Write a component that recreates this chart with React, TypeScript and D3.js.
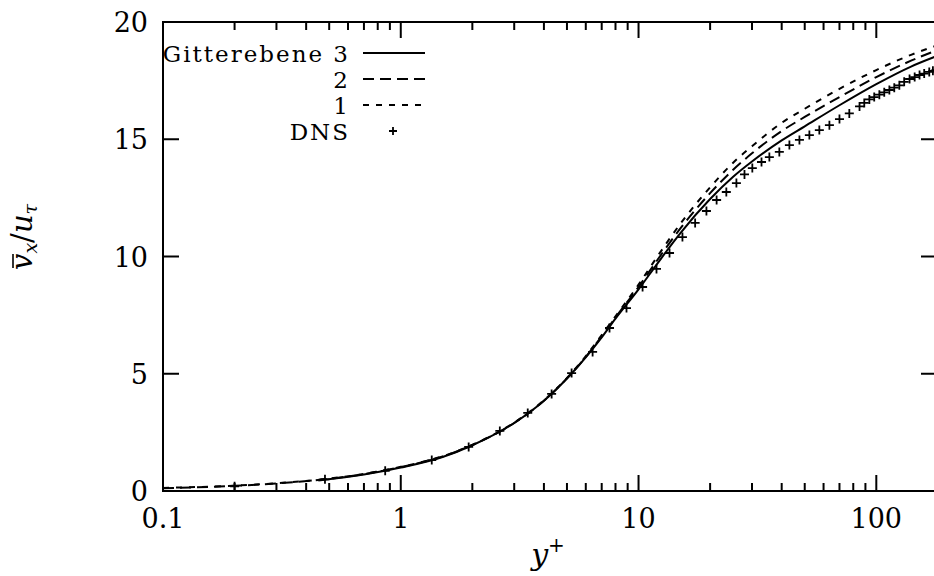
import React from 'react';
import * as d3 from 'd3';

// Gitterebene 3 (fine grid)
const level3YPlus = [0.45, 0.7, 1, 1.5, 2, 3, 4, 5, 6, 7, 8, 10, 12, 15, 20, 25, 30, 40, 50, 70, 100, 140, 180];
const level3U = [0.45, 0.7, 1.0, 1.45, 1.95, 2.9, 3.85, 4.8, 5.7, 6.55, 7.35, 8.6, 9.7, 11.0, 12.45, 13.4, 14.05, 14.95, 15.55, 16.45, 17.35, 18.1, 18.55];

// Gitterebene 2 and 1
const coarseYPlus = [0.1, 0.2, 0.3, 0.5, 0.7, 1, 1.5, 2, 3, 4, 5, 6, 7, 8, 10, 12, 15, 20, 25, 30, 40, 50, 70, 100, 140, 180];
const level2U = [0.12, 0.22, 0.32, 0.52, 0.72, 1.02, 1.47, 1.96, 2.9, 3.85, 4.8, 5.72, 6.6, 7.4, 8.7, 9.85, 11.2, 12.7, 13.7, 14.4, 15.35, 15.95, 16.8, 17.65, 18.35, 18.8];
const level1U = [0.13, 0.23, 0.33, 0.53, 0.73, 1.03, 1.48, 1.97, 2.92, 3.87, 4.82, 5.75, 6.65, 7.45, 8.8, 10.0, 11.4, 12.95, 14.0, 14.7, 15.7, 16.3, 17.15, 17.95, 18.6, 19.0];

// DNS
const dnsYPlus = [0.2, 0.48, 0.86, 1.35, 1.93, 2.61, 3.42, 4.31, 5.23, 6.41, 7.55, 8.9, 10.4, 11.9, 13.5, 15.3, 17.3, 19.3, 21.3, 23.4, 25.8, 27.9, 30.1, 32.9, 35.5, 39.1, 43.1, 47.5, 52.3, 57.6, 63.5, 70, 77, 85, 89, 93.5, 98, 103, 108, 113.5, 119, 125, 131, 138, 145, 152, 159, 167, 173, 178];
const dnsU = [0.2, 0.5, 0.86, 1.32, 1.88, 2.56, 3.33, 4.14, 5.03, 5.93, 6.95, 7.8, 8.7, 9.47, 10.15, 10.83, 11.43, 11.94, 12.41, 12.75, 13.13, 13.5, 13.77, 14.03, 14.24, 14.46, 14.75, 14.97, 15.18, 15.39, 15.6, 15.86, 16.1, 16.4, 16.55, 16.7, 16.8, 16.9, 17.0, 17.1, 17.2, 17.3, 17.45, 17.57, 17.65, 17.74, 17.8, 17.87, 17.92, 17.95];

const xTickValues = [0.1, 1, 10, 100];
const xTickLabels = ['0.1', '1', '10', '100'];
const yTickValues = [0, 5, 10, 15, 20];

const legendLabels = ['Gitterebene 3', '2', '1', 'DNS'];

const W = 934;
const H = 576;
const font = 'DejaVu Serif';

export default function App() {
  const x = d3.scaleLog().domain([0.1, 180]).range([163, 937]);
  const y = d3.scaleLinear().domain([0, 20]).range([491, 22]);
  const [x0, x1] = x.range();
  const [y0, y1] = y.range();

  const line = d3
    .line<[number, number]>()
    .x(d => x(d[0]))
    .y(d => y(d[1]))
    .curve(d3.curveMonotoneX);

  const series = [
    { xs: level3YPlus, us: level3U, dash: null },
    { xs: coarseYPlus, us: level2U, dash: '11 6' },
    { xs: coarseYPlus, us: level1U, dash: '6 7' },
  ];

  // minor ticks 2..9 in every decade
  const minor: number[] = [];
  for (let d = 0.1; d < 180; d *= 10) {
    for (let k = 2; k <= 9; k++) {
      const v = +(d * k).toPrecision(3);
      if (v < 180) minor.push(v);
    }
  }

  return (
    <svg width={W} height={H} style={{ position: 'absolute', left: 0, top: 0, background: '#fff' }}>
      <defs>
        <clipPath id="plot">
          <rect x={x0} y={y1} width={x1 - x0} height={y0 - y1} />
        </clipPath>
      </defs>

      {/* curves */}
      <g clipPath="url(#plot)" fill="none" stroke="#000" strokeWidth={2}>
        {series.map((s, i) => (
          <path
            key={i}
            d={line(s.xs.map((v, j) => [v, s.us[j]]) as [number, number][]) || ''}
            strokeDasharray={s.dash || undefined}
          />
        ))}
        {dnsYPlus.map((v, i) => (
          <path
            key={'d' + i}
            d={`M${x(v) - 4.5},${y(dnsU[i])}h9M${x(v)},${y(dnsU[i]) - 4.5}v9`}
            strokeWidth={1.8}
          />
        ))}
      </g>

      {/* frame and ticks */}
      <g stroke="#000" strokeWidth={2} fill="none">
        <rect x={x0} y={y1} width={x1 - x0} height={y0 - y1} />
        {xTickValues.map(v => (
          <g key={'mx' + v}>
            <line x1={x(v)} x2={x(v)} y1={y0} y2={y0 - 16} />
            <line x1={x(v)} x2={x(v)} y1={y1} y2={y1 + 16} />
          </g>
        ))}
        {minor.map(v => (
          <g key={'mn' + v}>
            <line x1={x(v)} x2={x(v)} y1={y0} y2={y0 - 8} />
            <line x1={x(v)} x2={x(v)} y1={y1} y2={y1 + 8} />
          </g>
        ))}
        {yTickValues.map(v => (
          <g key={'my' + v}>
            <line x1={x0} x2={x0 + 16} y1={y(v)} y2={y(v)} />
            <line x1={x1} x2={x1 - 16} y1={y(v)} y2={y(v)} />
          </g>
        ))}
      </g>

      {/* tick labels */}
      <g fontFamily={font} fontSize={27} fill="#000">
        {xTickValues.map((v, i) => (
          <text key={'xl' + v} x={x(v)} y={528} textAnchor="middle">
            {xTickLabels[i]}
          </text>
        ))}
        {yTickValues.map(v => (
          <text key={'yl' + v} x={148} y={y(v) + 10} textAnchor="end">
            {v}
          </text>
        ))}
      </g>

      {/* axis titles */}
      <text x={548} y={565} fontFamily={font} fontSize={30} textAnchor="middle" fill="#000">
        <tspan fontStyle="italic">y</tspan>
        <tspan fontSize={20} dy={-13}>+</tspan>
      </text>
      <g transform="translate(32,232) rotate(-90)" fontFamily={font} fill="#000">
        <line x1={-36} x2={-22} y1={-19} y2={-19} stroke="#000" strokeWidth={1.6} />
        <text x={-38} y={0} fontSize={29} fontStyle="italic">
          v<tspan fontSize={19} dy={5}>x</tspan>
          <tspan dy={-5} fontStyle="normal">/</tspan>u
          <tspan fontSize={19} dy={5}>τ</tspan>
        </text>
      </g>

      {/* legend */}
      <g fontFamily={font} fontSize={23} fill="#000" letterSpacing={2}>
        {legendLabels.map((l, i) => (
          <text key={l} x={350} y={62 + i * 26} textAnchor="end">
            {l}
          </text>
        ))}
      </g>
      <g stroke="#000" strokeWidth={2}>
        {series.map((s, i) => (
          <line key={'lg' + i} x1={363} x2={425} y1={53 + i * 26} y2={53 + i * 26} strokeDasharray={s.dash || undefined} />
        ))}
        <path d="M389,131h8M393,127v8" strokeWidth={1.8} />
      </g>
    </svg>
  );
}
